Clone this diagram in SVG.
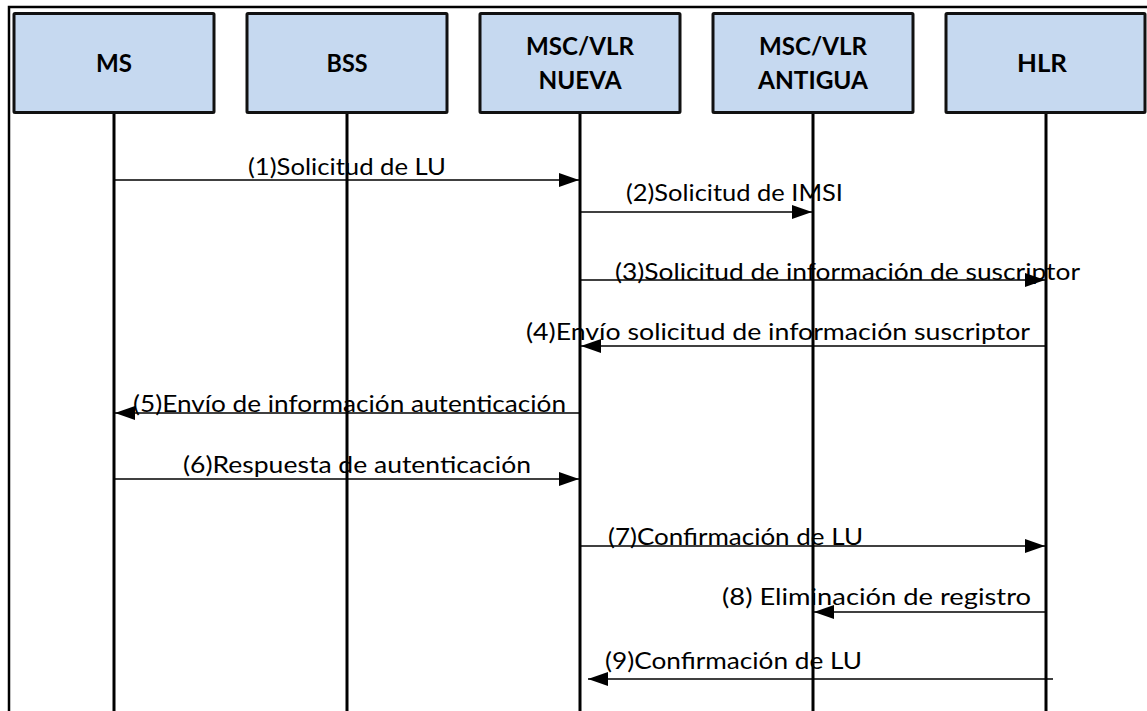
<svg xmlns="http://www.w3.org/2000/svg" width="1147" height="711" viewBox="0 0 1147 711">
<style>
.box{fill:#c6d9f0;stroke:#111;stroke-width:3}
.hd{font-family:Lato,"Liberation Sans",sans-serif;font-weight:bold;font-size:24px;fill:#000;text-anchor:middle}
.life{stroke:#000;stroke-width:3}
.msg{stroke:#000;stroke-width:1.5;fill:none;marker-end:url(#ah)}
.lb{font-family:Lato,"Liberation Sans",sans-serif;font-size:23px;fill:#000}
</style>
<defs>
<marker id="ah" markerUnits="userSpaceOnUse" markerWidth="20" markerHeight="14" refX="20" refY="7" orient="auto" viewBox="0 0 20 14">
<path d="M0,0 L20,7 L0,14 z" fill="#000"/>
</marker>
</defs>
<rect width="1147" height="711" fill="#fff"/>
<path d="M9,711 V7 H1147" fill="none" stroke="#000" stroke-width="2.5"/>
<g id="lifelines">
<line class="life" x1="114" y1="113" x2="114" y2="711"/>
<line class="life" x1="347" y1="113" x2="347" y2="711"/>
<line class="life" x1="580" y1="113" x2="580" y2="711"/>
<line class="life" x1="813" y1="113" x2="813" y2="711"/>
<line class="life" x1="1046" y1="113" x2="1046" y2="711"/>
</g>
<g id="node-ms">
<rect class="box" x="14" y="13.5" width="200" height="99" rx="1"/>
<text class="hd" x="114" y="72" textLength="36" lengthAdjust="spacingAndGlyphs">MS</text>
</g>
<g id="node-bss">
<rect class="box" x="247" y="13.5" width="200" height="99" rx="1"/>
<text class="hd" x="347" y="72" textLength="41" lengthAdjust="spacingAndGlyphs">BSS</text>
</g>
<g id="node-msc-nueva">
<rect class="box" x="480" y="13.5" width="200" height="99" rx="1"/>
<text class="hd" x="580" y="55" textLength="108" lengthAdjust="spacingAndGlyphs">MSC/VLR</text>
<text class="hd" x="580" y="89" textLength="83" lengthAdjust="spacingAndGlyphs">NUEVA</text>
</g>
<g id="node-msc-antigua">
<rect class="box" x="713" y="13.5" width="200" height="99" rx="1"/>
<text class="hd" x="813" y="55" textLength="108" lengthAdjust="spacingAndGlyphs">MSC/VLR</text>
<text class="hd" x="813" y="89" textLength="110" lengthAdjust="spacingAndGlyphs">ANTIGUA</text>
</g>
<g id="node-hlr">
<rect class="box" x="946" y="13.5" width="199" height="99" rx="1"/>
<text class="hd" x="1042" y="72" textLength="50" lengthAdjust="spacingAndGlyphs">HLR</text>
</g>
<g id="connectors">
<line class="msg" x1="114" y1="180" x2="579" y2="180"/>
<line class="msg" x1="580" y1="212" x2="812" y2="212"/>
<line class="msg" x1="580" y1="280" x2="1045" y2="280"/>
<line class="msg" x1="1046" y1="346" x2="581" y2="346"/>
<line class="msg" x1="580" y1="413" x2="115" y2="413"/>
<line class="msg" x1="114" y1="479" x2="579" y2="479"/>
<line class="msg" x1="580" y1="546" x2="1045" y2="546"/>
<line class="msg" x1="1046" y1="612" x2="814" y2="612"/>
<line class="msg" x1="1053" y1="679" x2="588" y2="679"/>
</g>
<g id="labels">
<text class="lb" x="248" y="175" textLength="198" lengthAdjust="spacingAndGlyphs">(1)Solicitud de LU</text>
<text class="lb" x="626" y="201" textLength="217" lengthAdjust="spacingAndGlyphs">(2)Solicitud de IMSI</text>
<text class="lb" x="615" y="280" textLength="465" lengthAdjust="spacingAndGlyphs">(3)Solicitud de información de suscriptor</text>
<text class="lb" x="526" y="340" textLength="504" lengthAdjust="spacingAndGlyphs">(4)Envío solicitud de información suscriptor</text>
<text class="lb" x="133" y="412" textLength="433" lengthAdjust="spacingAndGlyphs">(5)Envío de información autenticación</text>
<text class="lb" x="183" y="473" textLength="348" lengthAdjust="spacingAndGlyphs">(6)Respuesta de autenticación</text>
<text class="lb" x="608" y="545" textLength="255" lengthAdjust="spacingAndGlyphs">(7)Confirmación de LU</text>
<text class="lb" x="722" y="605" textLength="309" lengthAdjust="spacingAndGlyphs">(8) Eliminación de registro</text>
<text class="lb" x="605" y="669" textLength="257" lengthAdjust="spacingAndGlyphs">(9)Confirmación de LU</text>
</g>
</svg>
